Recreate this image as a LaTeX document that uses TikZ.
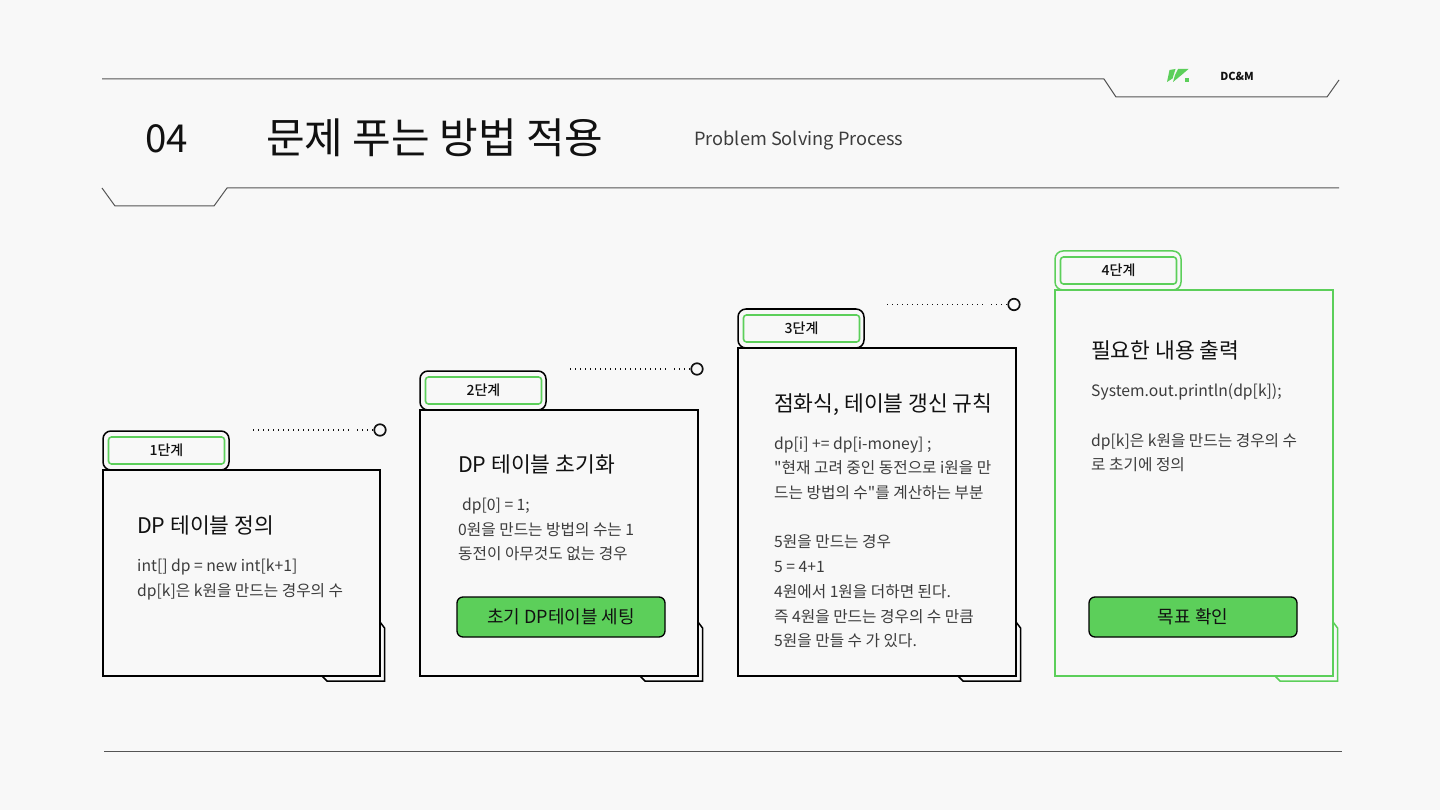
\documentclass[tikz,border=0pt]{standalone}
\usepackage{fontspec}
\setmainfont{Noto Sans CJK KR}[Ligatures=TeXOff]
\newfontfamily\medfont{Noto Sans CJK KR Medium}[Ligatures=TeXOff]
\definecolor{bgc}{HTML}{F8F8F8}
\definecolor{grn}{HTML}{5CCF5A}
\definecolor{ink}{HTML}{111111}
\definecolor{bodyc}{HTML}{3C3C3C}
\definecolor{rulec}{HTML}{555555}
\newcommand{\fs}[1]{\fontsize{#1}{#1}\selectfont}
\tikzset{
  x=1pt,y=-1pt,
  rulel/.style={draw=rulec,line width=1pt,line join=round},
  tabo/.style={line width=1.5pt,rounded corners=8pt},
  tabi/.style={draw=grn,line width=1.6pt,rounded corners=3pt,fill=bgc,outer sep=0pt},
  cardr/.style={line width=1.5pt,outer sep=0pt},
  heading/.style={anchor=base west,inner sep=0pt,font=\fs{21.5},text=ink},
  bodyt/.style={anchor=base west,inner sep=0pt,font=\fs{15.7},text=bodyc},
  tabt/.style={inner sep=0pt,font=\medfont\fs{14},text=ink},
  btn/.style={draw=black,line width=1.3pt,fill=grn,rounded corners=6pt,font=\fs{18},text=ink,inner sep=0pt,outer sep=0pt},
  dot/.style={draw=ink,line width=1.7pt,circle,fill=bgc,inner sep=0pt,minimum size=11.5pt},
  dots/.style={draw=ink,line width=1.2pt,dash pattern=on 1.3pt off 3.7pt},
}
% #1 name, #2 colour, #3 card top, #4 left, #5 right, #6 tab text
\newcommand{\card}[6]{
  \draw[cardr,draw=#2] (#5,622) -- (#5+4.5,628) -- (#5+4.5,681) -- (#5-53,681) -- (#5-58,676);
  \draw[tabo,draw=#2,fill=bgc] (#4,#3) -- (#4,#3-39) -- (#4+126,#3-39) -- (#4+126,#3) -- cycle;
  \node[draw=#2,cardr,fill=bgc,inner sep=0pt,minimum width=#5pt-#4pt,minimum height=676pt-#3pt,anchor=north west] (#1box) at (#4,#3) {};
  \node[tabi,inner sep=0pt,minimum width=116pt,minimum height=27pt,anchor=north west,tabt] (#1tab) at (#4+5.5,#3-33) {#6};
}
\begin{document}
\begin{tikzpicture}
\fill[bgc] (0,0) rectangle (1440,810);
\useasboundingbox (0,0) rectangle (1440,810);
% header rules
\coordinate (a1) at (102,79); \coordinate (a2) at (1104,79); \coordinate (a3) at (1116,97);
\coordinate (a4) at (1327,97); \coordinate (a5) at (1339,80);
\draw[rulel] (a1)--(a2)--(a3)--(a4)--(a5);
\coordinate (b1) at (102,188); \coordinate (b2) at (115,206); \coordinate (b3) at (214,206);
\coordinate (b4) at (227,188); \coordinate (b5) at (1339,188);
\draw[rulel] (b1)--(b2)--(b3)--(b4)--(b5);
\coordinate (c1) at (104,751); \coordinate (c2) at (1342,751);
\draw[rulel] (c1)--(c2);
% logo
\fill[grn] (1169.5,70)--(1175.5,69)--(1172.5,78.5)--(1167,82)--cycle;
\fill[grn] (1178,69)--(1188.5,69)--(1181.5,75)--(1173,82)--(1175,75)--cycle;
\fill[grn] (1184.5,78.5)--(1188.5,78.5)--(1188.5,82)--(1184.5,82)--cycle;
\node[inner sep=0pt,font=\fs{11},text=ink] (brand) at (1237,76) {\textbf{DC\&M}};
% title
\node[anchor=base west,inner sep=0pt,font=\fs{38.5},text=ink] (num) at (145,153) {04};
\node[anchor=base west,inner sep=0pt,font=\fs{42},text=ink] (ttl) at (266,154) {문제 푸는 방법 적용};
\node[anchor=base west,inner sep=0pt,font=\fs{18.2},text=bodyc] (sub) at (694,146) {Problem Solving Process};
% cards
\card{p}{black}{470}{103}{380}{1단계}
\card{q}{black}{410}{420}{698}{2단계}
\card{r}{black}{348}{738}{1016}{3단계}
\card{s}{grn}{290}{1055}{1333}{4단계}
% dotted leaders
\node[dot] (pd) at (380,430) {};
\coordinate (p1) at (253,430); \coordinate (p2) at (351,430); \coordinate (p3) at (357,430);
\draw[dots] (p1)--(p2); \draw[dots] (p3)--(pd);
\node[dot] (qd) at (697,369) {};
\coordinate (q1) at (570,369); \coordinate (q2) at (668,369); \coordinate (q3) at (674,369);
\draw[dots] (q1)--(q2); \draw[dots] (q3)--(qd);
\node[dot] (rd) at (1014,304.5) {};
\coordinate (r1) at (887,304.5); \coordinate (r2) at (985,304.5); \coordinate (r3) at (991,304.5);
\draw[dots] (r1)--(r2); \draw[dots] (r3)--(rd);
% card 1 text
\node[heading] (p0) at (137,533) {DP 테이블 정의};
\node[bodyt] (p4) at (137,571) {int[] dp = new int[k+1]};
\node[bodyt] (p5) at (137,596) {dp[k]은 k원을 만드는 경우의 수};
% card 2 text
\node[heading] (q0) at (458,472) {DP 테이블 초기화};
\node[bodyt] (q4) at (462,510) {dp[0] = 1;};
\node[bodyt] (q5) at (458,535) {0원을 만드는 방법의 수는 1};
\node[bodyt] (q6) at (458,559) {동전이 아무것도 없는 경우};
\node[btn,minimum width=208pt,minimum height=40pt,anchor=north west] (qb) at (457,597) {\raisebox{1pt}{초기 DP테이블 세팅}};
% card 3 text
\node[heading] (r0) at (774,411) {점화식, 테이블 갱신 규칙};
\node[bodyt] (r4) at (774,449) {dp[i] += dp[i-money] ;};
\node[bodyt] (r5) at (774,473) {"현재 고려 중인 동전으로 i원을 만};
\node[bodyt] (r6) at (774,498) {드는 방법의 수"를 계산하는 부분};
\node[bodyt] (r7) at (774,547) {5원을 만드는 경우};
\node[bodyt] (r8) at (774,572) {5 = 4+1};
\node[bodyt] (r9) at (774,597) {4원에서 1원을 더하면 된다.};
\node[bodyt] (r10) at (774,622) {즉 4원을 만드는 경우의 수 만큼};
\node[bodyt] (r11) at (774,646) {5원을 만들 수 가 있다.};
% card 4 text
\node[heading] (s0) at (1091,358) {필요한 내용 출력};
\node[bodyt] (s4) at (1091,396) {System.out.println(dp[k]);};
\node[bodyt] (s5) at (1091,446) {dp[k]은 k원을 만드는 경우의 수};
\node[bodyt] (s6) at (1091,470) {로 초기에 정의};
\node[btn,minimum width=208pt,minimum height=40pt,anchor=north west] (sb) at (1089,597) {\raisebox{1pt}{목표 확인}};
\end{tikzpicture}
\end{document}
